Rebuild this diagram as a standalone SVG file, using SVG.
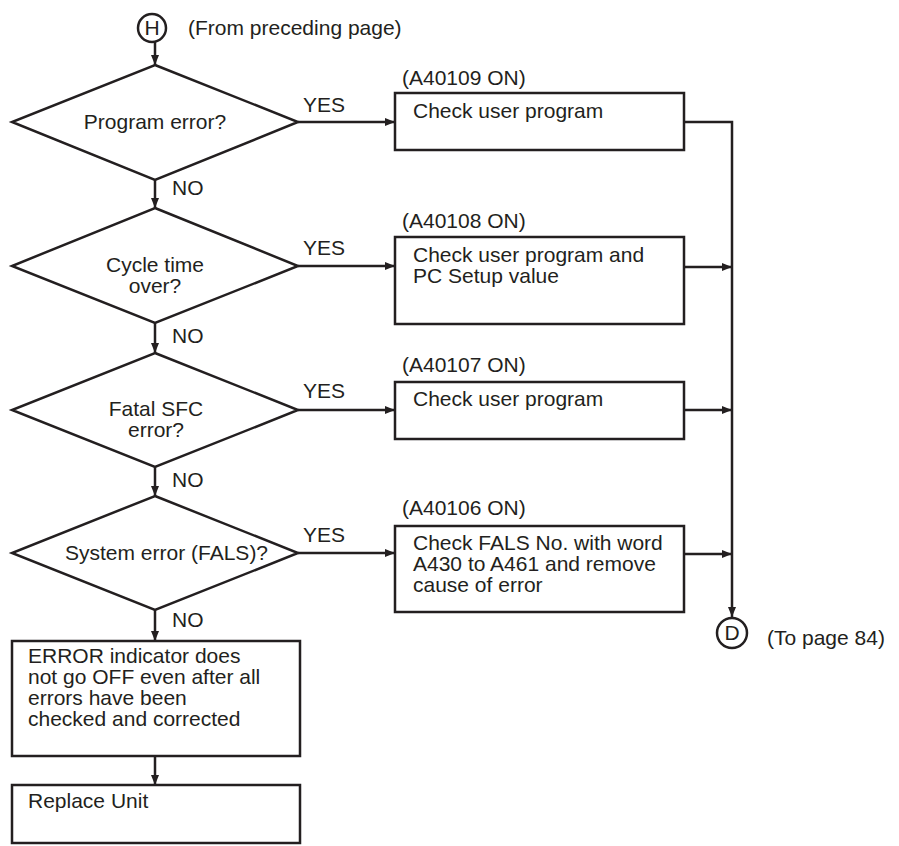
<svg xmlns="http://www.w3.org/2000/svg" width="899" height="846" viewBox="0 0 899 846">
<style>
.s{fill:#fff;stroke:#231f20;stroke-width:2.5}
.c{fill:none;stroke:#231f20;stroke-width:2.5}
text{font-family:"Liberation Sans",Arial,sans-serif;font-size:21px;fill:#231f20}
.m{text-anchor:middle}
</style>
<defs>
<marker id="ah" viewBox="0 0 10 8" refX="10" refY="4" markerWidth="10" markerHeight="8" markerUnits="userSpaceOnUse" orient="auto">
<path d="M0,0 L10,4 L0,8 Z" fill="#231f20"/>
</marker>
</defs>
<rect width="899" height="846" fill="#fff"/>
<g id="connectors">
<line class="c" x1="155" y1="42" x2="155" y2="65" marker-end="url(#ah)"/>
<line class="c" x1="155" y1="180" x2="155" y2="208" marker-end="url(#ah)"/>
<line class="c" x1="155" y1="323" x2="155" y2="353" marker-end="url(#ah)"/>
<line class="c" x1="155" y1="467" x2="155" y2="496" marker-end="url(#ah)"/>
<line class="c" x1="155" y1="610" x2="155" y2="641" marker-end="url(#ah)"/>
<line class="c" x1="155" y1="756" x2="155" y2="785" marker-end="url(#ah)"/>
<line class="c" x1="298" y1="122" x2="395" y2="122" marker-end="url(#ah)"/>
<line class="c" x1="298" y1="266" x2="395" y2="266" marker-end="url(#ah)"/>
<line class="c" x1="298" y1="410" x2="395" y2="410" marker-end="url(#ah)"/>
<line class="c" x1="298" y1="553" x2="395" y2="553" marker-end="url(#ah)"/>
<polyline class="c" points="684,122 732,122 732,617" marker-end="url(#ah)"/>
<line class="c" x1="684" y1="267" x2="732" y2="267" marker-end="url(#ah)"/>
<line class="c" x1="684" y1="410" x2="732" y2="410" marker-end="url(#ah)"/>
<line class="c" x1="684" y1="554" x2="732" y2="554" marker-end="url(#ah)"/>
<text x="303" y="112">YES</text>
<text x="303" y="255">YES</text>
<text x="303" y="398">YES</text>
<text x="303" y="542">YES</text>
<text x="172" y="195">NO</text>
<text x="172" y="343">NO</text>
<text x="172" y="487">NO</text>
<text x="172" y="627">NO</text>
</g>
<g id="H">
<circle class="s" cx="152" cy="28" r="14"/>
<text class="m" x="152" y="35">H</text>
<text x="188" y="35">(From preceding page)</text>
</g>
<g id="d1">
<polygon class="s" points="155,65 298,122 155,180 12,122"/>
<text class="m" x="155" y="129">Program error?</text>
</g>
<g id="d2">
<polygon class="s" points="155,208 298,266 155,323 12,266"/>
<text class="m" x="155" y="272">Cycle time</text>
<text class="m" x="155" y="293">over?</text>
</g>
<g id="d3">
<polygon class="s" points="155,353 298,410 155,467 12,410"/>
<text class="m" x="156" y="416">Fatal SFC</text>
<text class="m" x="156" y="437">error?</text>
</g>
<g id="d4">
<polygon class="s" points="155,496 298,553 155,610 12,553"/>
<text x="65" y="560">System error (FALS)?</text>
</g>
<g id="b1">
<text x="402" y="85">(A40109 ON)</text>
<rect class="s" x="395" y="93" width="289" height="57"/>
<text x="413" y="118">Check user program</text>
</g>
<g id="b2">
<text x="402" y="228">(A40108 ON)</text>
<rect class="s" x="395" y="237" width="289" height="87"/>
<text x="413" y="262">Check user program and</text>
<text x="413" y="283">PC Setup value</text>
</g>
<g id="b3">
<text x="402" y="372">(A40107 ON)</text>
<rect class="s" x="395" y="382" width="289" height="57"/>
<text x="413" y="406">Check user program</text>
</g>
<g id="b4">
<text x="402" y="515">(A40106 ON)</text>
<rect class="s" x="395" y="526" width="289" height="86"/>
<text x="413" y="550">Check FALS No. with word</text>
<text x="413" y="571">A430 to A461 and remove</text>
<text x="413" y="592">cause of error</text>
</g>
<g id="D">
<circle class="s" cx="732" cy="633" r="15"/>
<text class="m" x="732" y="640">D</text>
<text x="767" y="645">(To page 84)</text>
</g>
<g id="b5">
<rect class="s" x="12" y="641" width="288" height="115"/>
<text x="28" y="663">ERROR indicator does</text>
<text x="28" y="684">not go OFF even after all</text>
<text x="28" y="705">errors have been</text>
<text x="28" y="726">checked and corrected</text>
</g>
<g id="b6">
<rect class="s" x="12" y="785" width="288" height="58"/>
<text x="28" y="808">Replace Unit</text>
</g>
</svg>
